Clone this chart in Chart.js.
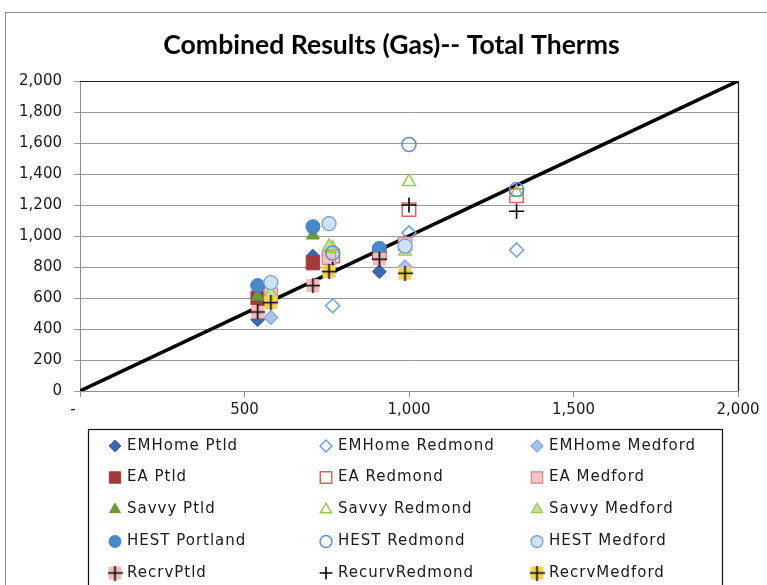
<!DOCTYPE html>
<html><head><meta charset="utf-8">
<script src="https://cdn.jsdelivr.net/npm/chart.js@4/dist/chart.umd.min.js"></script>
<style>html,body{margin:0;padding:0;background:#fff;}#wrap{position:relative;width:767px;height:585px;overflow:hidden;}</style>
</head><body><div id="wrap"><canvas id="c" width="767" height="585"></canvas></div>
<script>
// ---------------- data ----------------
const chartTitle = 'Combined Results (Gas)-- Total Therms';
const xTicks = [0, 500, 1000, 1500, 2000];
const yTicks = [0, 200, 400, 600, 800, 1000, 1200, 1400, 1600, 1800, 2000];
const diagonal = [0, 2000];

const portlandX = [540, 708, 910];
const redmondX  = [768, 1000, 1327];
const medfordX  = [580, 757, 988];

const emhomePtld    = [460, 870, 770];
const emhomeRedmond = [550, 1020, 910];
const emhomeMedford = [475, 875, 800];
const eaPtld        = [600, 825, 890];
const eaRedmond     = [870, 1170, 1260];
const eaMedford     = [620, 860, 950];
const savvyPtld     = [610, 1005, 900];
const savvyRedmond  = [920, 1350, 1280];
const savvyMedford  = [630, 935, 900];
const hestPortland  = [680, 1060, 920];
const hestRedmond   = [890, 1590, 1300];
const hestMedford   = [700, 1080, 935];
const recrvPtld     = [510, 680, 850];
const recurvRedmond = [785, 1200, 1160];
const recrvMedford  = [570, 770, 760];

const seriesNames = ['EMHome Ptld','EMHome Redmond','EMHome Medford','EA Ptld','EA Redmond','EA Medford',
  'Savvy Ptld','Savvy Redmond','Savvy Medford','HEST Portland','HEST Redmond','HEST Medford',
  'RecrvPtld','RecurvRedmond','RecrvMedford'];
const seriesX = [portlandX, redmondX, medfordX, portlandX, redmondX, medfordX, portlandX, redmondX, medfordX,
  portlandX, redmondX, medfordX, portlandX, redmondX, medfordX];
const seriesY = [emhomePtld, emhomeRedmond, emhomeMedford, eaPtld, eaRedmond, eaMedford, savvyPtld, savvyRedmond,
  savvyMedford, hestPortland, hestRedmond, hestMedford, recrvPtld, recurvRedmond, recrvMedford];

// ---------------- styles ----------------
function plusImage(fill, size) {
  const c = document.createElement('canvas');
  c.width = size; c.height = size;
  const g = c.getContext('2d');
  if (fill) { g.fillStyle = fill; g.fillRect(1, 1, size - 2, size - 2); }
  g.strokeStyle = '#000'; g.lineWidth = 1.6;
  g.beginPath();
  g.moveTo(size / 2, 0); g.lineTo(size / 2, size);
  g.moveTo(0, size / 2); g.lineTo(size, size / 2);
  g.stroke();
  return c;
}
const styles = [
  {ps:'rectRot', r:7, fill:'#3F67AC', stroke:'#3A62A6', bw:1},
  {ps:'rectRot', r:7, fill:'rgba(0,0,0,0)', stroke:'#6E9EDB', bw:1.5},
  {ps:'rectRot', r:7, fill:'#A9C4E9', stroke:'#7FA6DB', bw:1.2},
  {ps:'rect', r:9.5, fill:'#A23A3C', stroke:'#A8393C', bw:1},
  {ps:'rect', r:9.5, fill:'rgba(0,0,0,0)', stroke:'#D66565', bw:1.5},
  {ps:'rect', r:9.5, fill:'#F2C4C4', stroke:'#D98585', bw:1.2},
  {ps:'triangle', r:7.5, fill:'#6F9A3C', stroke:'#6A9538', bw:1},
  {ps:'triangle', r:7.5, fill:'rgba(0,0,0,0)', stroke:'#98C75A', bw:1.5},
  {ps:'triangle', r:7.5, fill:'#C6DE9C', stroke:'#9CC65E', bw:1.2},
  {ps:'circle', r:7, fill:'#4A89C9', stroke:'#3F7FC2', bw:1},
  {ps:'circle', r:7, fill:'rgba(0,0,0,0)', stroke:'#5B8FD8', bw:1.5},
  {ps:'circle', r:7, fill:'#CFE2F5', stroke:'#6D9CD8', bw:1.2},
  {ps:plusImage('#F4B9B9', 15), r:7, fill:'#F4B9B9', stroke:'#000', bw:1},
  {ps:'cross', r:7.5, fill:'#000', stroke:'#000', bw:1.6},
  {ps:plusImage('#F2D455', 15), r:7, fill:'#F2D455', stroke:'#000', bw:1},
];

// ---------------- fonts ----------------
const measure = document.createElement('canvas').getContext('2d');
measure.font = 'bold 20px Lato';
const titleSize = Math.round(20 * 457 / measure.measureText(chartTitle).width * 10) / 10;
const tickFont = {family: 'DejaVu Sans', size: 15};
const legendFont = '15px "DejaVu Sans"';

// ---------------- datasets ----------------
const datasets = [{
  type: 'line', label: 'diagonal',
  data: diagonal.map(v => ({x: v, y: v})),
  borderColor: '#000', borderWidth: 3.5, pointRadius: 0, order: 100, showLine: true, fill: false
}];
seriesNames.forEach((name, i) => {
  const s = styles[i];
  datasets.push({
    label: name,
    data: seriesX[i].map((x, k) => ({x: x, y: seriesY[i][k]})),
    pointStyle: s.ps, pointRadius: s.r, pointHoverRadius: s.r,
    backgroundColor: s.fill, borderColor: s.stroke, pointBorderWidth: s.bw, borderWidth: s.bw,
    showLine: false, order: 50 - i
  });
});

const fmt = v => v.toLocaleString('en-US');

const framePlugin = {
  id: 'frame',
  beforeDraw(chart) {
    const ctx = chart.ctx;
    ctx.save();
    ctx.fillStyle = '#fff'; ctx.fillRect(0, 0, chart.width, chart.height);
    ctx.strokeStyle = '#8d8d8d'; ctx.lineWidth = 1;
    ctx.strokeRect(5.5, 12.5, chart.width + 20, chart.height + 20);
    ctx.restore();
  },
  beforeDatasetsDraw(chart) {
    const {left, right, top, bottom} = chart.chartArea;
    const ctx = chart.ctx;
    ctx.save();
    ctx.strokeStyle = '#1e1e1e'; ctx.lineWidth = 1.2;
    ctx.beginPath();
    ctx.moveTo(left, top + 0.5); ctx.lineTo(right + 0.5, top + 0.5); ctx.lineTo(right + 0.5, bottom);
    ctx.stroke();
    ctx.restore();
  },
  afterDraw(chart) {
    const ctx = chart.ctx;
    ctx.save();
    ctx.strokeStyle = '#111'; ctx.lineWidth = 1.2;
    ctx.strokeRect(88.5, 429.5, 634, 170);
    const colX = [115, 326, 537];
    const rowY = [446, 477.5, 509.5, 541.5, 573];
    ctx.font = legendFont;
    ctx.textBaseline = 'middle';
    ctx.fillStyle = '#1a1a1a';
    seriesNames.forEach((name, i) => {
      const col = i % 3, row = Math.floor(i / 3);
      const s = styles[i];
      const x = colX[col], y = rowY[row];
      ctx.save();
      ctx.fillStyle = s.fill; ctx.strokeStyle = s.stroke; ctx.lineWidth = s.bw;
      Chart.helpers.drawPoint(ctx, {pointStyle: s.ps, radius: s.r * 0.85, borderWidth: s.bw, rotation: 0}, x, y);
      ctx.restore();
      ctx.fillStyle = '#1a1a1a';
      ctx.letterSpacing = '1px';
      ctx.fillText(name, x + 12, y);
    });
    ctx.restore();
  }
};

new Chart(document.getElementById('c'), {
  type: 'scatter',
  data: {datasets},
  plugins: [framePlugin],
  options: {
    responsive: false, animation: false, devicePixelRatio: 1, events: [],
    layout: {padding: {left: 45, right: 29, top: 0, bottom: 154}},
    plugins: {
      legend: {display: false}, tooltip: {enabled: false},
      title: {display: true, text: chartTitle, color: '#000',
        font: {family: 'Lato', weight: 'bold', size: titleSize, lineHeight: 1.2},
        padding: {top: 45 - titleSize * 0.6, bottom: 81 - (45 - titleSize * 0.6) - titleSize * 1.2}}
    },
    scales: {
      x: {
        type: 'linear', min: xTicks[0], max: xTicks[xTicks.length - 1],
        afterBuildTicks: sc => { sc.ticks = xTicks.map(v => ({value: v})); },
        afterFit: sc => { sc.height = 40; },
        ticks: {font: tickFont, color: '#1a1a1a', padding: 4, maxRotation: 0,
          callback: v => v === 0 ? '-   ' : fmt(v)},
        grid: {drawOnChartArea: false, drawTicks: true, tickLength: 6, color: '#8d8d8d'},
        border: {display: true, color: '#8d8d8d'}
      },
      y: {
        type: 'linear', min: yTicks[0], max: yTicks[yTicks.length - 1],
        afterBuildTicks: sc => { sc.ticks = yTicks.map(v => ({value: v})); },
        afterFit: sc => { sc.width = 35; sc._computeLabelArea = () => undefined; },
        ticks: {font: tickFont, color: '#1a1a1a', padding: 12, callback: v => fmt(v)},
        grid: {color: '#9a9a9a', lineWidth: 1, drawTicks: true, tickLength: 6},
        border: {display: true, color: '#8d8d8d'}
      }
    }
  }
});
</script>
</body></html>
